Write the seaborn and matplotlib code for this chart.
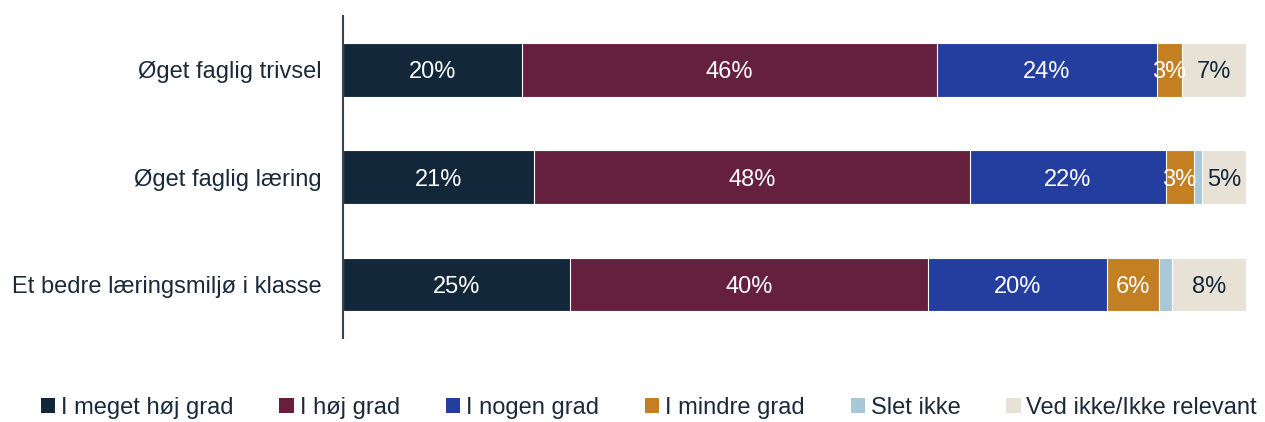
import matplotlib.pyplot as plt
import seaborn as sns
import pandas as pd
from matplotlib.patches import Patch

# data (percent of answers)
categories = ["Øget faglig trivsel", "Øget faglig læring", "Et bedre læringsmiljø i klasse"]
answers = ["I meget høj grad", "I høj grad", "I nogen grad", "I mindre grad", "Slet ikke", "Ved ikke/Ikke relevant"]
meget_hoj = [19.8, 21.2, 25.2]
hoj = [46.0, 48.2, 39.6]
nogen = [24.3, 21.7, 19.8]
mindre = [2.8, 3.1, 5.8]
slet_ikke = [0.0, 0.9, 1.4]
ved_ikke = [7.1, 4.9, 8.2]

colors = ["#12283a", "#65203e", "#243ea0", "#c47f22", "#a8c8d8", "#e8e1d6"]
text_colors = ["white", "white", "white", "white", "#12283a", "#12283a"]
txt = "#1b2a3a"

sns.set_theme(style="white")
plt.rcParams['font.family'] = ['Liberation Sans', 'DejaVu Sans']

df = pd.DataFrame({"kategori": categories})
series = [meget_hoj, hoj, nogen, mindre, slet_ikke, ved_ikke]
for name, vals in zip(answers, series):
    df[name] = vals
cum = df[answers].cumsum(axis=1)

fig = plt.figure(figsize=(12.65, 4.22), dpi=100)
ax = fig.add_axes([0.271, 0.199, 0.714, 0.763])

# stacked bars: draw cumulative totals from the back
for i in range(len(answers) - 1, -1, -1):
    sns.barplot(x=cum[answers[i]], y=df["kategori"], color=colors[i], width=0.5,
                edgecolor="white", linewidth=0.8, saturation=1, ax=ax, orient="h")

# value labels
for r in range(len(categories)):
    start = 0
    for i, name in enumerate(answers):
        v = df[name][r]
        if round(v) >= 3:
            ax.text(start + v / 2, r, f"{round(v)}%", ha="center", va="center_baseline",
                    color=text_colors[i], fontsize=17)
        start += v

ax.set_xlim(0, 100)
ax.set_ylim(2.5, -0.5)
ax.set_xlabel("")
ax.set_ylabel("")
ax.set_xticks([])
ax.tick_params(axis="y", length=0, pad=15, labelsize=17, labelcolor=txt)
for s in ["top", "right", "bottom"]:
    ax.spines[s].set_visible(False)
ax.spines["left"].set_color("#3a4450")
ax.spines["left"].set_linewidth(1.5)

handles = [Patch(facecolor=c, edgecolor="none") for c in colors]
leg = fig.legend(handles, answers, loc="center", bbox_to_anchor=(0.513, 1 - 408 / 422),
                 ncol=6, frameon=False, fontsize=17, handlelength=0.6, handleheight=0.6,
                 handletextpad=0.25, columnspacing=1.95, borderpad=0, borderaxespad=0)
for t in leg.get_texts():
    t.set_color(txt)

fig.savefig("out.png", dpi=100)
